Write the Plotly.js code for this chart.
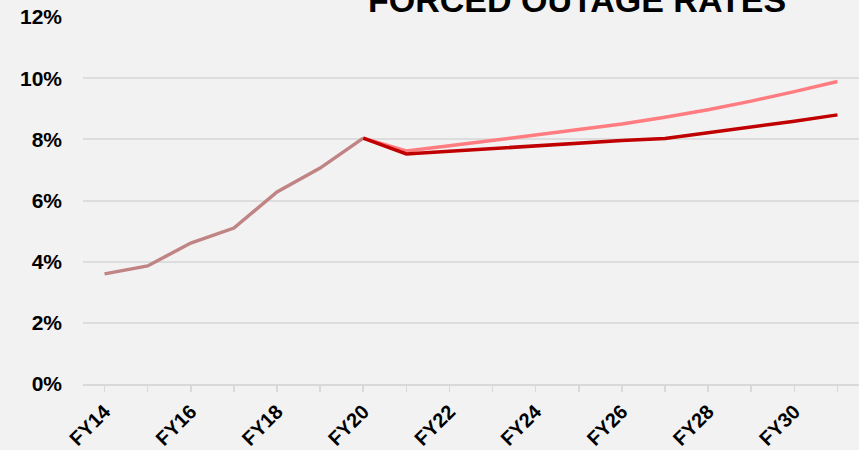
<!DOCTYPE html>
<html>
<head>
<meta charset="utf-8">
<script src="https://cdn.plot.ly/plotly-3.0.1.min.js"></script>
<style>html,body{margin:0;padding:0;background:#F2F2F2;}#chart{width:859px;height:450px;}</style>
</head>
<body>
<div id="chart"></div>
<script>
const categories = ['FY14','FY15','FY16','FY17','FY18','FY19','FY20','FY21','FY22','FY23','FY24','FY25','FY26','FY27','FY28','FY29','FY30','FY31'];
const historical = [3.60, 3.86, 4.61, 5.10, 6.28, 7.06, 8.04, null, null, null, null, null, null, null, null, null, null, null];
const forecastHigh = [null, null, null, null, null, null, 8.04, 7.62, 7.79, 7.96, 8.14, 8.32, 8.50, 8.72, 8.97, 9.25, 9.56, 9.89];
const forecastBase = [null, null, null, null, null, null, 8.04, 7.52, 7.61, 7.70, 7.78, 7.87, 7.96, 8.03, 8.21, 8.40, 8.59, 8.80];
const tickLabels = categories.map((c, i) => (i % 2 === 0 ? c : ''));
const chartTitle = 'FORCED OUTAGE RATES';

const FONT = 'Liberation Sans, Arial, sans-serif';

const traces = [
  {x: categories, y: historical, type: 'scatter', mode: 'lines', name: 'Historical',
   line: {color: '#C08484', width: 3.5}, connectgaps: false, hoverinfo: 'skip'},
  {x: categories, y: forecastHigh, type: 'scatter', mode: 'lines', name: 'High',
   line: {color: '#FF7C80', width: 3.5}, connectgaps: false, hoverinfo: 'skip'},
  {x: categories, y: forecastBase, type: 'scatter', mode: 'lines', name: 'Base',
   line: {color: '#C00000', width: 3.5}, connectgaps: false, hoverinfo: 'skip'}
];

const layout = {
  width: 859, height: 450,
  paper_bgcolor: '#F2F2F2', plot_bgcolor: '#F2F2F2',
  margin: {l: 83, r: 0, t: 17, b: 66},
  showlegend: false,
  annotations: [{
    text: chartTitle,
    font: {family: FONT, size: 34, color: '#000000', weight: 700},
    xref: 'paper', x: 0.6366, xanchor: 'center',
    yref: 'paper', y: 1.046, yanchor: 'middle',
    showarrow: false
  }],
  xaxis: {
    type: 'category',
    range: [-0.5, 17.5],
    tickmode: 'array', tickvals: categories, ticktext: tickLabels,
    tickangle: -45,
    ticks: 'outside', ticklen: 6, tickcolor: '#D9D9D9', tickwidth: 1.5,
    showline: true, linecolor: '#D9D9D9', linewidth: 2,
    showgrid: false, zeroline: false,
    ticklabelstandoff: 0,
    tickfont: {family: FONT, size: 20, color: '#000000', weight: 700}
  },
  yaxis: {
    range: [0, 12], dtick: 2, tick0: 0,
    ticksuffix: '%',
    showgrid: true, gridcolor: '#DDDDDD', gridwidth: 2,
    zeroline: false, showline: false, ticks: '',
    ticklabelstandoff: 20,
    tickfont: {family: FONT, size: 21, color: '#000000', weight: 700}
  }
};

Plotly.newPlot('chart', traces, layout, {displayModeBar: false, staticPlot: true});
</script>
</body>
</html>
